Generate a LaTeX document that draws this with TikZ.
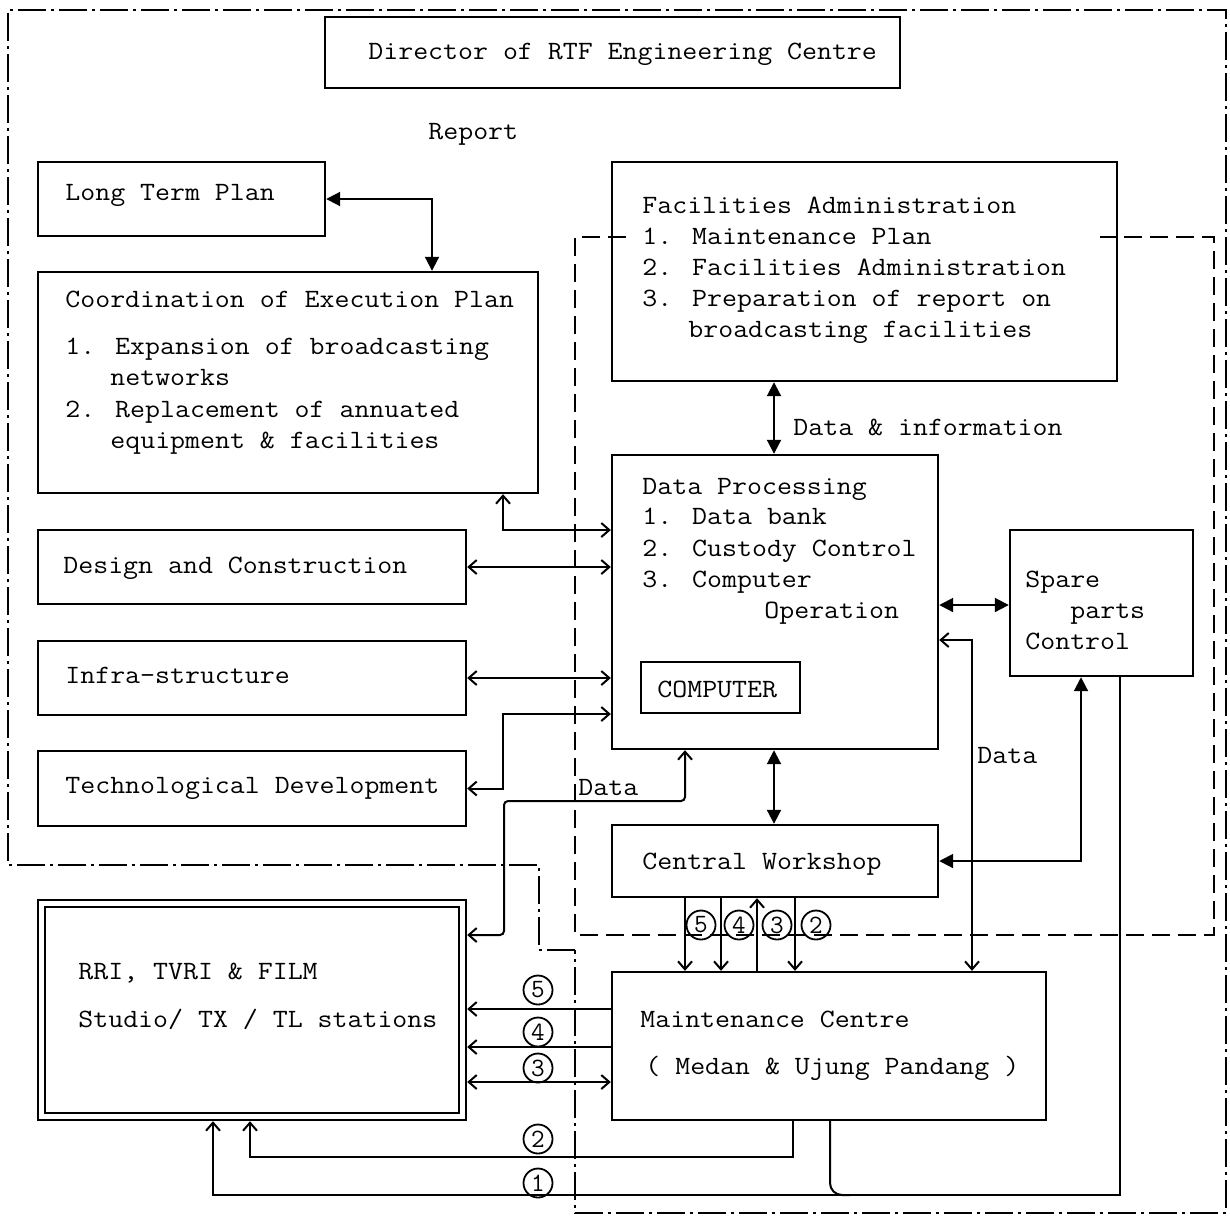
\documentclass[tikz,border=0pt]{standalone}
\usepackage{graphicx}
\usetikzlibrary{arrows.meta,fit}
% widen the typewriter face a little
\newcommand\tw[1]{\scalebox{1.1}[1]{#1}}
% one line of text, placed by its baseline start
\newcommand\putline[4]{\node[txt] (#1) at (#2,#3) {\tw{#4}};}
\begin{document}
\begin{tikzpicture}[x=0.5pt,y=-0.5pt,
  txt/.style={anchor=base west,inner sep=0pt,font=\ttfamily\fontsize{13.2}{16}\selectfont},
  blk/.style={draw,line width=1.2pt,inner sep=0pt},
  wire/.style={line width=1pt},
  >={Straight Barb[length=4pt,width=7pt]},
  fat/.style={line width=1pt,{Triangle[length=7pt,width=7pt]}-{Triangle[length=7pt,width=7pt]}},
  num/.style={circle,draw,line width=0.9pt,minimum size=14.5pt,inner sep=0pt,font=\ttfamily\fontsize{13.2}{16}\selectfont},
  longdash/.style={line width=1pt,dash pattern=on 9pt off 4pt},
  dashdot/.style={line width=1pt,dash pattern=on 14pt off 2.5pt on 1.5pt off 2.5pt}
]
\useasboundingbox (0,0) rectangle (1230,1217);

% ---- organisational boundaries ----
\draw[dashdot] (575,950) -- (539,950) -- (539,865) -- (8,865) -- (8,10)
  -- (1226,10) -- (1226,1213) -- (575,1213) -- cycle;
\draw[longdash] (626,237) -- (575,237) -- (575,935) -- (1214,935)
  -- (1214,237) -- (1100,237);

% ---- blocks ----
\node[blk,fit={(325,17) (900,88)}] (dir) {};
\node[blk,fit={(38,162) (325,236)}] (ltp) {};
\node[blk,fit={(38,272) (538,493)}] (coord) {};
\node[blk,fit={(612,162) (1117,381)}] (fac) {};
\node[blk,fit={(612,455) (938,749)}] (dp) {};
\node[blk,fit={(641,662) (800,713)}] (comp) {};
\node[blk,fit={(1010,530) (1193,676)}] (spare) {};
\node[blk,fit={(38,530) (466,604)}] (design) {};
\node[blk,fit={(38,641) (466,715)}] (infra) {};
\node[blk,fit={(38,751) (466,826)}] (tech) {};
\node[blk,fit={(612,825) (938,897)}] (cw) {};
\node[blk,fit={(612,972) (1046,1120)}] (mc) {};
\node[blk,fit={(38,900) (466,1120)}] (rri) {};
\node[blk,line width=1pt,fit={(45,907) (459,1113)}] (rriin) {};

% ---- texts ----
\putline{tdir}{368}{59}{Director of RTF Engineering Centre}
\putline{trep}{428}{139}{Report}
\putline{tltp}{65}{200}{Long Term Plan}
\putline{tco1}{65}{307}{Coordination of Execution Plan}
\putline{tco2}{65}{354}{1. Expansion of broadcasting}
\putline{tco3}{110}{385}{networks}
\putline{tco4}{65}{417}{2. Replacement of annuated}
\putline{tco5}{110}{448}{equipment \& facilities}
\putline{tfa1}{642}{213}{Facilities Administration}
\putline{tfa2}{642}{244}{1. Maintenance Plan}
\putline{tfa3}{642}{275}{2. Facilities Administration}
\putline{tfa4}{642}{306}{3. Preparation of report on}
\putline{tfa5}{688}{337}{broadcasting facilities}
\putline{tdin}{793}{435}{Data \& information}
\putline{tdp1}{642}{494}{Data Processing}
\putline{tdp2}{642}{524}{1. Data bank}
\putline{tdp3}{642}{556}{2. Custody Control}
\putline{tdp4}{642}{587}{3. Computer}
\putline{tdp5}{764}{618}{Operation}
\putline{tcomp}{657}{697}{COMPUTER}
\putline{tsp1}{1025}{587}{Spare}
\putline{tsp2}{1070}{618}{parts}
\putline{tsp3}{1025}{649}{Control}
\putline{tdes}{63}{573}{Design and Construction}
\putline{tinf}{65}{683}{Infra-structure}
\putline{ttec}{65}{793}{Technological Development}
\putline{tdl}{578}{795}{Data}
\putline{tdr}{977}{763}{Data}
\putline{tcw}{642}{869}{Central Workshop}
\putline{trr1}{78}{979}{RRI, TVRI \& FILM}
\putline{trr2}{78}{1027}{Studio/ TX / TL stations}
\putline{tmc1}{640}{1027}{Maintenance Centre}
\putline{tmc2}{645}{1074}{( Medan \& Ujung Pandang )}

% ---- heavy two-way links ----
\draw[fat] (ltp.east) -| (432,0 |- coord.north);
\draw[fat] (774,0 |- fac.south) -- (774,0 |- dp.north);
\draw[fat] (774,0 |- dp.south) -- (774,0 |- cw.north);
\draw[fat] (dp.east |- 0,605) -- (spare.west |- 0,605);
\draw[fat] (1081,0 |- spare.south) |- (cw.east);

% ---- planning units to data processing ----
\draw[wire,<->] (503,0 |- coord.south) |- (dp.west |- 0,530);
\draw[wire,<->] (design.east) -- (dp.west |- design.east);
\draw[wire,<->] (infra.east) -- (dp.west |- infra.east);
\draw[wire,<->] (tech.east) -| (503,714) -- (dp.west |- 0,714);
\draw[wire,<->,rounded corners=2pt] (rri.east |- 0,935) -| (504,801) -| (685,0 |- dp.south);
\draw[wire,<->] (dp.east |- 0,640) -| (972,0 |- mc.north);

% ---- workshop to maintenance centre ----
\draw[wire,->] (685,0 |- cw.south) -- (685,0 |- mc.north);
\draw[wire,->] (721,0 |- cw.south) -- (721,0 |- mc.north);
\draw[wire,<-] (757,0 |- cw.south) -- (757,0 |- mc.north);
\draw[wire,->] (795,0 |- cw.south) -- (795,0 |- mc.north);
\node[num] (w5) at (701,925) {5};
\node[num] (w4) at (739,925) {4};
\node[num] (w3) at (777,925) {3};
\node[num] (w2) at (816,925) {2};

% ---- maintenance centre to stations ----
\draw[wire,->] (mc.west |- 0,1009) -- (rri.east |- 0,1009);
\draw[wire,->] (mc.west |- 0,1047) -- (rri.east |- 0,1047);
\draw[wire,<->] (rri.east |- 0,1082) -- (mc.west |- 0,1082);
\draw[wire,->] (793,0 |- mc.south) -- (793,1157) -| (250,0 |- rri.south);
\draw[wire,->] (1120,0 |- spare.south) |- (213,1195) -- (213,0 |- rri.south);
\draw[wire,rounded corners=6pt] (830,0 |- mc.south) |- (850,1195);
\node[num] (s5) at (538,990) {5};
\node[num] (s4) at (538,1032) {4};
\node[num] (s3) at (538,1068) {3};
\node[num] (s2) at (538,1139) {2};
\node[num] (s1) at (538,1183) {1};
\end{tikzpicture}
\end{document}
